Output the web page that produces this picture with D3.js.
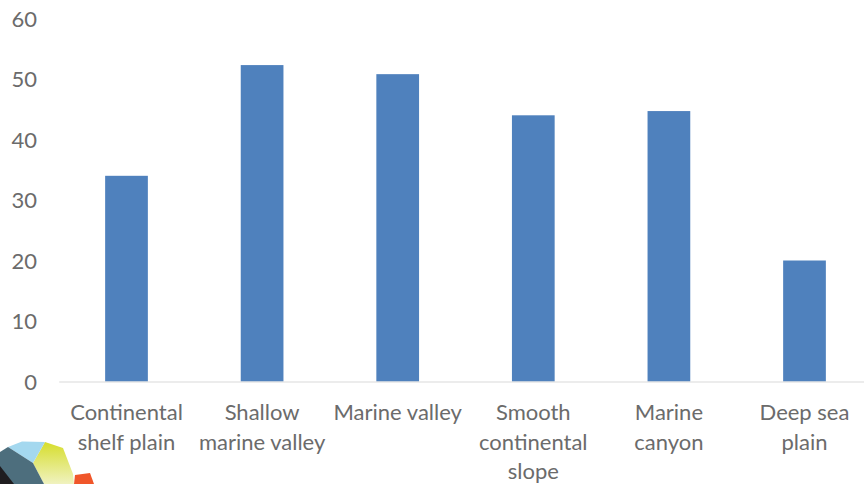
<!DOCTYPE html>
<html>
<head>
<meta charset="utf-8">
<style>
html, body { margin: 0; padding: 0; background: #fff; overflow: hidden; }
svg { display: block; }
text { font-family: Lato, "Open Sans", sans-serif; fill: #6b6b6b; font-size: 22px; }
</style>
<script src="https://cdn.jsdelivr.net/npm/d3@7"></script>
</head>
<body>
<svg id="chart" width="864" height="484"></svg>
<script>
var categories = ["Continental shelf plain", "Shallow marine valley", "Marine valley", "Smooth continental slope", "Marine canyon", "Deep sea plain"];
var categoryLines = [["Continental", "shelf plain"], ["Shallow", "marine valley"], ["Marine valley"], ["Smooth", "continental", "slope"], ["Marine", "canyon"], ["Deep sea", "plain"]];
var values = [34, 52.3, 50.8, 44, 44.7, 20];
var yTicks = [0, 10, 20, 30, 40, 50, 60];

var svg = d3.select("#chart");

var x = d3.scaleBand().domain(categories).range([58.7, 872.3]).paddingInner(0.685).paddingOuter(0.3425);
var y = d3.scaleLinear().domain([0, 60]).range([381.5, 18.5]);

// bars
svg.append("g").selectAll("rect")
   .data(values)
   .join("rect")
   .attr("x", function(d, i) { return x(categories[i]); })
   .attr("y", function(d) { return y(d); })
   .attr("width", x.bandwidth())
   .attr("height", function(d) { return y(0) - y(d); })
   .attr("fill", "#4f81bd");

// baseline only, no tick marks
var xAxis = svg.append("g").attr("transform", "translate(0," + y(0) + ")")
   .call(d3.axisBottom(x).tickSize(0).tickFormat(""));
xAxis.select(".domain").attr("stroke", "#d9d9d9").attr("stroke-width", 1.2);

// category labels, wrapped by hand
var labels = svg.append("g").selectAll("text")
   .data(categories)
   .join("text")
   .attr("text-anchor", "middle")
   .attr("y", 420);
labels.selectAll("tspan")
   .data(function(d, i) { return categoryLines[i].map(function(s) { return { s: s, c: d }; }); })
   .join("tspan")
   .attr("x", function(d) { return x(d.c) + x.bandwidth() / 2; })
   .attr("dy", function(d, i) { return i ? 29.5 : 0; })
   .text(function(d) { return d.s; });

var yAxis = svg.append("g").attr("transform", "translate(37,0)")
   .call(d3.axisLeft(y).tickValues(yTicks).tickSize(0).tickPadding(0));
yAxis.select(".domain").remove();
yAxis.selectAll("text").attr("dy", "0.35em").attr("font-family", null).attr("font-size", null);

// corner of the publisher logo
var defs = svg.append("defs");
var fade = defs.append("linearGradient").attr("id", "logoFade")
   .attr("x1", 0).attr("y1", 0).attr("x2", 0).attr("y2", 1);
fade.append("stop").attr("offset", 0).attr("stop-color", "#d6dd2c");
fade.append("stop").attr("offset", 1).attr("stop-color", "#f0f2c0");

var logo = svg.append("g");
logo.append("path").attr("d", "M75 475L90 473L94 484L74 484Z").attr("fill", "#f0562a");
logo.append("path").attr("d", "M45 442L63 448L73 474L74 484L44 484L33 463Z").attr("fill", "url(#logoFade)");
logo.append("path").attr("d", "M8 447L22 441.5L45 442L33 463Z").attr("fill", "#a4d8ef");
logo.append("path").attr("d", "M0 452L8 447L33 463L44 484L0 484Z").attr("fill", "#4d6e7d");
logo.append("path").attr("d", "M0 466L14 484L0 484Z").attr("fill", "#1f1d20");
</script>
</body>
</html>
